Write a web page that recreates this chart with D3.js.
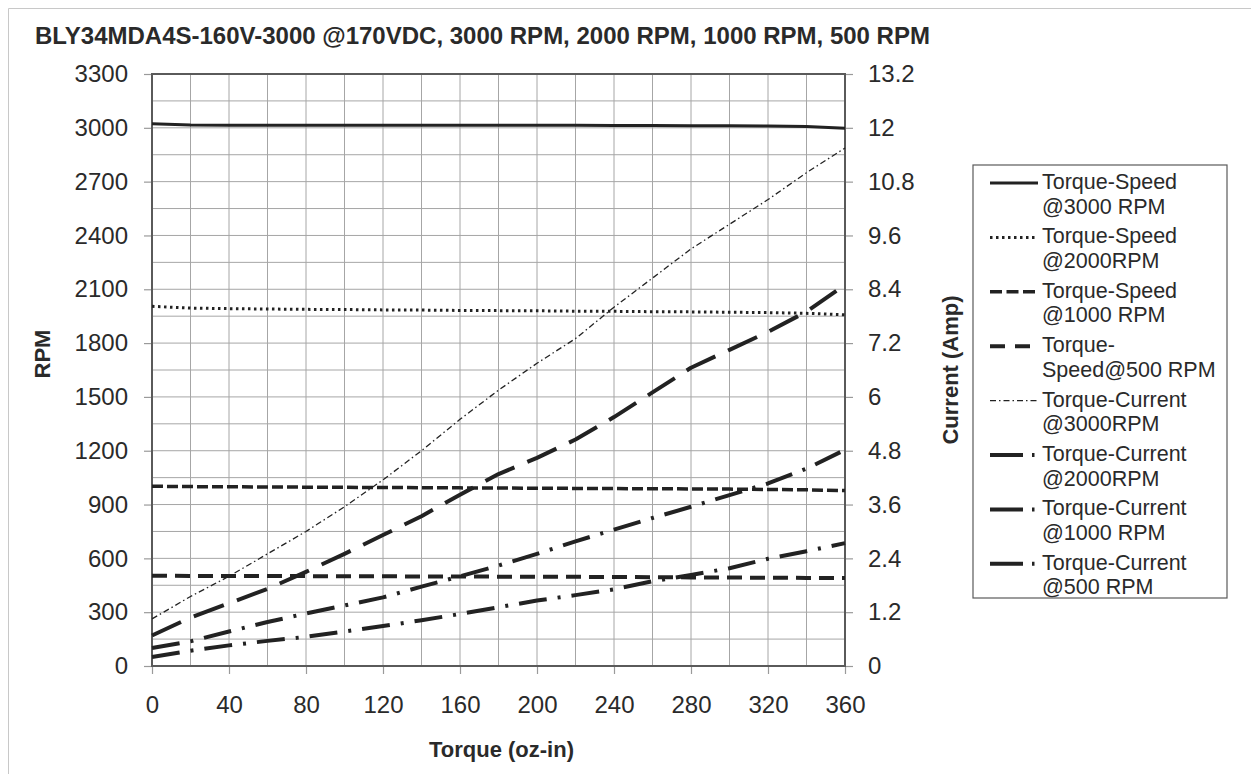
<!DOCTYPE html>
<html>
<head>
<meta charset="utf-8">
<script src="https://cdn.jsdelivr.net/npm/d3@7"></script>
<style>
  body { margin: 0; background: #fff; }
  svg { font-family: "Liberation Sans", Arial, sans-serif; }
</style>
</head>
<body>
<script>
const width = 1251;
const height = 774;
const margin = { top: 74, right: 406, bottom: 108, left: 152 };

const chartWidth = width - margin.left - margin.right;
const chartHeight = height - margin.top - margin.bottom;

// torque (oz-in) sampled every 20
const torque = [0, 20, 40, 60, 80, 100, 120, 140, 160, 180, 200, 220, 240, 260, 280, 300, 320, 340, 360];

// speed curves (RPM, left axis)
const speed3000 = [3022, 3016, 3015, 3015, 3015, 3015, 3015, 3015, 3015, 3014, 3014, 3014, 3013, 3013, 3012, 3011, 3010, 3008, 2998];
const speed2000 = [2005, 1995, 1992, 1990, 1988, 1987, 1985, 1984, 1982, 1981, 1980, 1978, 1977, 1975, 1974, 1972, 1970, 1966, 1958];
const speed1000 = [1002, 1000, 999, 998, 997, 996, 995, 994, 993, 992, 991, 990, 989, 988, 987, 986, 984, 982, 978];
const speed500 = [503, 502, 502, 501, 501, 500, 500, 499, 499, 498, 497, 497, 496, 495, 494, 493, 492, 491, 490];

// current curves (Amp, right axis)
const current3000 = [1.05, 1.55, 2.0, 2.5, 3.0, 3.55, 4.15, 4.8, 5.5, 6.15, 6.75, 7.3, 8.0, 8.65, 9.3, 9.85, 10.4, 11.0, 11.55];
const current2000 = [0.68, 1.08, 1.4, 1.72, 2.1, 2.5, 2.92, 3.34, 3.82, 4.28, 4.64, 5.05, 5.55, 6.1, 6.65, 7.05, 7.45, 7.9, 8.5];
const current1000 = [0.40, 0.55, 0.77, 0.98, 1.17, 1.35, 1.53, 1.77, 2.0, 2.24, 2.5, 2.78, 3.04, 3.3, 3.55, 3.81, 4.07, 4.4, 4.82];
const current500 = [0.2, 0.34, 0.46, 0.56, 0.65, 0.77, 0.89, 1.02, 1.16, 1.31, 1.46, 1.58, 1.71, 1.89, 2.03, 2.18, 2.39, 2.56, 2.74];

const xTicks = [0, 40, 80, 120, 160, 200, 240, 280, 320, 360];
const rpmTicks = [0, 300, 600, 900, 1200, 1500, 1800, 2100, 2400, 2700, 3000, 3300];
const ampTicks = [0, 1.2, 2.4, 3.6, 4.8, 6, 7.2, 8.4, 9.6, 10.8, 12, 13.2];

const series = [
  { name: ["Torque-Speed", "@3000 RPM"], values: speed3000, axis: "rpm", width: 3, dash: null, legendDash: null },
  { name: ["Torque-Speed", "@2000RPM"], values: speed2000, axis: "rpm", width: 3, dash: "2.5,3.5", legendDash: "2.5,3.5" },
  { name: ["Torque-Speed", "@1000 RPM"], values: speed1000, axis: "rpm", width: 3.5, dash: "11,4", legendDash: "12,4.5" },
  { name: ["Torque-", "Speed@500 RPM"], values: speed500, axis: "rpm", width: 4, dash: "15,8", legendDash: "15,10" },
  { name: ["Torque-Current", "@3000RPM"], values: current3000, axis: "amp", width: 1.3, dash: "6,3,1.5,3", legendDash: "6,3,1.5,3" },
  { name: ["Torque-Current", "@2000RPM"], values: current2000, axis: "amp", width: 4, dash: "32,14", legendDash: "33,9,2.5,9" },
  { name: ["Torque-Current", "@1000 RPM"], values: current1000, axis: "amp", width: 4, dash: "28,11,3,11", legendDash: "33,9,2.5,9" },
  { name: ["Torque-Current", "@500 RPM"], values: current500, axis: "amp", width: 4, dash: "28,11,3,11", legendDash: "33,9,2.5,9" }
];

const ink = "#222";
const textColor = "#2a2a2a";

const svg = d3.select("body")
  .append("svg")
  .attr("width", width)
  .attr("height", height);

// outer frame of the picture
svg.append("path")
  .attr("d", `M8.5,${height} V8.5 H${width}`)
  .attr("fill", "none")
  .attr("stroke", "#c8c8c8");

svg.append("text")
  .attr("x", 35)
  .attr("y", 44)
  .attr("font-size", 24)
  .attr("font-weight", "bold")
  .attr("fill", textColor)
  .text("BLY34MDA4S-160V-3000 @170VDC, 3000 RPM, 2000 RPM, 1000 RPM, 500 RPM");

const g = svg.append("g")
  .attr("transform", `translate(${margin.left}, ${margin.top})`);

const x = d3.scaleLinear().domain([0, 360]).range([0, chartWidth]);
const yRpm = d3.scaleLinear().domain([0, 3300]).range([chartHeight, 0]);
const yAmp = d3.scaleLinear().domain([0, 13.2]).range([chartHeight, 0]);

// grid
g.append("g")
  .selectAll("line")
  .data(d3.range(0, 361, 20))
  .join("line")
    .attr("x1", d => x(d)).attr("x2", d => x(d))
    .attr("y1", 0).attr("y2", chartHeight)
    .attr("stroke", "#a6a6a6")
    .attr("stroke-width", 1);

g.append("g")
  .selectAll("line")
  .data(d3.range(0, 3301, 150))
  .join("line")
    .attr("x1", 0).attr("x2", chartWidth)
    .attr("y1", d => yRpm(d)).attr("y2", d => yRpm(d))
    .attr("stroke", "#a6a6a6")
    .attr("stroke-width", 1);

// axes
function styleAxis(sel) {
  sel.select(".domain").remove();
  sel.selectAll(".tick line").attr("stroke", "#9a9a9a").attr("stroke-width", 1.2);
  sel.selectAll(".tick text")
    .attr("fill", textColor)
    .attr("font-size", 24)
    .attr("font-family", "Liberation Sans, Arial, sans-serif");
}

g.append("g")
  .attr("transform", `translate(0, ${chartHeight})`)
  .call(d3.axisBottom(x).tickValues(xTicks).tickSize(8).tickPadding(22).tickFormat(d => String(d)))
  .call(styleAxis);

g.append("g")
  .call(d3.axisLeft(yRpm).tickValues(rpmTicks).tickSize(8).tickPadding(16).tickFormat(d => String(d)))
  .call(styleAxis);

g.append("g")
  .attr("transform", `translate(${chartWidth}, 0)`)
  .call(d3.axisRight(yAmp).tickValues(ampTicks).tickSize(8).tickPadding(15).tickFormat(d => String(d)))
  .call(styleAxis);

// plot frame
g.append("rect")
  .attr("width", chartWidth)
  .attr("height", chartHeight)
  .attr("fill", "none")
  .attr("stroke", "#5a5a5a")
  .attr("stroke-width", 2);

// curves
series.forEach(s => {
  const yScale = s.axis === "rpm" ? yRpm : yAmp;
  const line = d3.line()
    .x((d, i) => x(torque[i]))
    .y(d => yScale(d));
  g.append("path")
    .datum(s.values)
    .attr("d", line)
    .attr("fill", "none")
    .attr("stroke", ink)
    .attr("stroke-width", s.width)
    .attr("stroke-dasharray", s.dash)
    .attr("stroke-linejoin", "round");
});

// axis titles
svg.append("text")
  .attr("transform", `translate(50, ${margin.top + chartHeight / 2 - 16}) rotate(-90)`)
  .attr("text-anchor", "middle")
  .attr("font-size", 22)
  .attr("font-weight", "bold")
  .attr("fill", textColor)
  .text("RPM");

svg.append("text")
  .attr("transform", `translate(958, ${margin.top + chartHeight / 2}) rotate(-90)`)
  .attr("text-anchor", "middle")
  .attr("font-size", 22)
  .attr("font-weight", "bold")
  .attr("fill", textColor)
  .text("Current (Amp)");

svg.append("text")
  .attr("x", margin.left + chartWidth / 2 + 3)
  .attr("y", 757)
  .attr("text-anchor", "middle")
  .attr("font-size", 22)
  .attr("font-weight", "bold")
  .attr("fill", textColor)
  .text("Torque (oz-in)");

// legend
const legend = svg.append("g").attr("transform", "translate(973, 165)");
legend.append("rect")
  .attr("width", 254)
  .attr("height", 433)
  .attr("fill", "#fff")
  .attr("stroke", "#5a5a5a")
  .attr("stroke-width", 1.2);

const entry = legend.selectAll("g.entry")
  .data(series)
  .join("g")
    .attr("class", "entry")
    .attr("transform", (d, i) => `translate(0, ${18 + i * 54.4})`);

entry.append("line")
  .attr("x1", 17).attr("x2", 65)
  .attr("y1", 0).attr("y2", 0)
  .attr("stroke", ink)
  .attr("stroke-width", d => d.width)
  .attr("stroke-dasharray", d => d.legendDash);

entry.append("text")
  .attr("x", 69)
  .attr("y", 6)
  .attr("font-size", 21.5)
  .attr("fill", textColor)
  .selectAll("tspan")
  .data(d => d.name)
  .join("tspan")
    .attr("x", 69)
    .attr("dy", (d, i) => i === 0 ? 0 : 24.5)
    .text(d => d);
</script>
</body>
</html>
